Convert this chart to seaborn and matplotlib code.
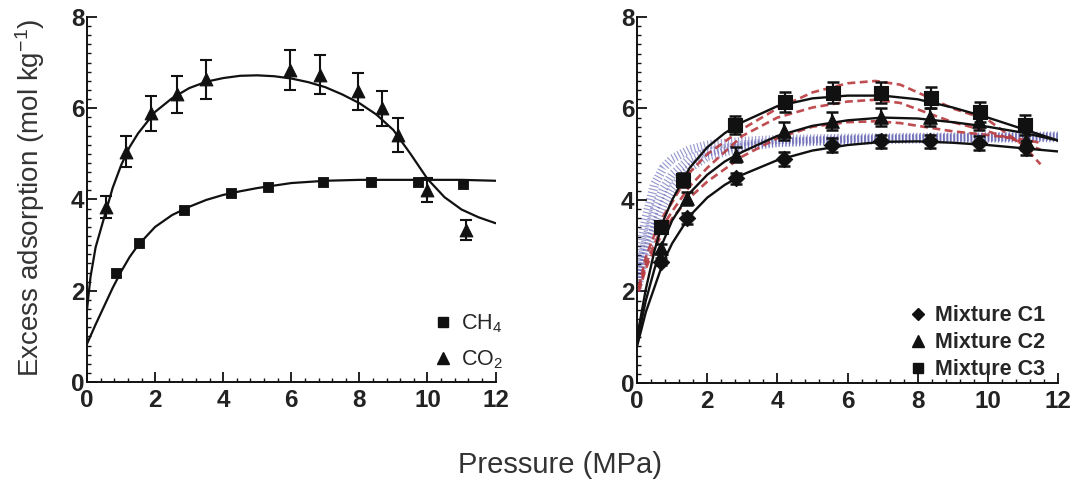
import numpy as np
import pandas as pd
import matplotlib
matplotlib.use("Agg")
import matplotlib.pyplot as plt
import seaborn as sns
from matplotlib.ticker import MultipleLocator
from matplotlib.lines import Line2D

sns.set_theme(style="ticks")
plt.rcParams['font.family'] = ['Liberation Sans', 'DejaVu Sans']
plt.rcParams['mathtext.fontset'] = 'custom'
plt.rcParams['mathtext.rm'] = 'Liberation Sans'
plt.rcParams['mathtext.it'] = 'Liberation Sans'

# ---------------- Left panel data ----------------
ch4_p = [0.86, 1.53, 2.84, 4.24, 5.32, 6.93, 8.35, 9.73, 11.05]
ch4_q = [2.38, 3.05, 3.77, 4.15, 4.28, 4.39, 4.39, 4.39, 4.33]

co2_p = [0.57, 1.14, 1.89, 2.65, 3.48, 5.97, 6.84, 7.96, 8.65, 9.14, 9.99, 11.13]
co2_q = [3.84, 5.05, 5.89, 6.30, 6.63, 6.84, 6.73, 6.37, 6.00, 5.42, 4.21, 3.33]
co2_err = [0.24, 0.33, 0.38, 0.41, 0.43, 0.44, 0.43, 0.41, 0.38, 0.37, 0.27, 0.22]

ch4_fit_p = [0, 0.25, 0.5, 0.75, 1, 1.25, 1.5, 2, 2.5, 3, 3.5, 4, 4.5, 5, 6, 7, 8, 9, 10, 11, 12]
ch4_fit_q = [0.84, 1.26, 1.66, 2.06, 2.42, 2.74, 3.0, 3.40, 3.66, 3.84, 3.99, 4.10, 4.18, 4.25, 4.36,
             4.41, 4.43, 4.43, 4.43, 4.43, 4.41]

co2_fit_p = [0, 0.1, 0.25, 0.5, 0.75, 1, 1.25, 1.5, 2, 2.5, 3, 3.5, 4, 4.5, 5, 5.5, 6, 6.5, 7, 7.5, 8,
             8.5, 9, 9.5, 10, 10.5, 11, 11.5, 12]
co2_fit_q = [1.6, 2.3, 2.95, 3.6, 4.25, 4.75, 5.15, 5.45, 5.92, 6.22, 6.44, 6.58, 6.66, 6.71, 6.72,
             6.70, 6.65, 6.57, 6.46, 6.30, 6.11, 5.86, 5.52, 5.00, 4.45, 4.05, 3.78, 3.61, 3.48]

# ---------------- Right panel data ----------------
mix_p = [0.67, 1.41, 2.83, 4.18, 5.56, 6.95, 8.35, 9.76, 11.08]
c1_q = [2.65, 3.60, 4.47, 4.89, 5.20, 5.28, 5.28, 5.24, 5.13]
c1_err = [0.08, 0.12, 0.13, 0.15, 0.15, 0.15, 0.15, 0.15, 0.15]
c2_q = [2.94, 4.04, 4.99, 5.50, 5.72, 5.82, 5.82, 5.72, 5.30]
c2_err = [0.10, 0.14, 0.17, 0.20, 0.20, 0.20, 0.20, 0.20, 0.20]
c3_p = [0.67, 1.31, 2.78, 4.21, 5.59, 6.96, 8.39, 9.77, 11.05]
c3_q = [3.42, 4.44, 5.64, 6.15, 6.34, 6.34, 6.23, 5.93, 5.64]
c3_err = [0.10, 0.15, 0.20, 0.22, 0.23, 0.23, 0.23, 0.22, 0.22]

fit_p = [0, 0.25, 0.5, 0.75, 1, 1.5, 2, 2.5, 3, 4, 5, 6, 7, 8, 9, 10, 11, 12]
c1_fit = [0.80, 1.55, 2.10, 2.65, 3.05, 3.65, 4.05, 4.33, 4.55, 4.87, 5.08, 5.20, 5.27, 5.28, 5.25, 5.20, 5.13, 5.06]
c2_fit = [0.90, 1.80, 2.50, 3.10, 3.55, 4.15, 4.55, 4.84, 5.05, 5.40, 5.62, 5.74, 5.80, 5.78, 5.70, 5.60, 5.47, 5.30]
c3_fit = [1.00, 2.05, 2.90, 3.55, 4.00, 4.70, 5.15, 5.46, 5.70, 6.05, 6.22, 6.28, 6.28, 6.20, 6.02, 5.80, 5.55, 5.30]

red_p = [0.05, 0.25, 0.5, 0.75, 1, 1.5, 2, 3, 4, 5, 6, 6.8, 7.5, 8, 9, 10, 11, 11.5]
red1 = [2.0, 2.5, 2.95, 3.30, 3.60, 4.05, 4.40, 4.95, 5.35, 5.60, 5.70, 5.72, 5.68, 5.62, 5.50, 5.42, 5.32, 5.25]
red2 = [2.05, 2.6, 3.05, 3.45, 3.75, 4.30, 4.70, 5.40, 5.80, 6.02, 6.15, 6.19, 6.12, 5.98, 5.70, 5.50, 5.25, 5.10]
red3 = [2.1, 2.75, 3.25, 3.65, 3.95, 4.60, 5.00, 5.55, 6.00, 6.35, 6.55, 6.60, 6.52, 6.35, 6.00, 5.75, 5.20, 4.78]

blue_p = [0, 0.1, 0.25, 0.5, 0.75, 1, 1.5, 2, 3, 4, 6, 8, 10, 12]
blue1 = [2.3, 3.0, 3.6, 4.35, 4.70, 4.90, 5.10, 5.20, 5.28, 5.32, 5.35, 5.37, 5.38, 5.40]
blue2 = [2.1, 2.6, 3.1, 3.80, 4.25, 4.55, 4.90, 5.05, 5.20, 5.27, 5.32, 5.35, 5.37, 5.38]
blue3 = [2.0, 2.4, 2.8, 3.40, 3.90, 4.25, 4.70, 4.95, 5.15, 5.25, 5.30, 5.33, 5.35, 5.36]

# ---------------- Figure ----------------
fig = plt.figure(figsize=(10.75, 4.83), dpi=100)
ax1 = fig.add_axes([0.081, 0.209, 0.380, 0.756])
ax2 = fig.add_axes([0.5926, 0.207, 0.3916, 0.758])

BLK = '#111111'

def style_axis(ax):
    ax.set_xlim(0, 12)
    ax.set_ylim(0, 8)
    ax.xaxis.set_major_locator(MultipleLocator(2))
    ax.xaxis.set_minor_locator(MultipleLocator(0.4))
    ax.yaxis.set_major_locator(MultipleLocator(2))
    ax.yaxis.set_minor_locator(MultipleLocator(0.2))
    ax.tick_params(which='major', direction='in', length=7, width=1.3, color=BLK,
                   labelsize=17.5, labelcolor='#222222')
    ax.tick_params(which='minor', direction='in', length=3, width=1.0, color=BLK)
    ax.tick_params(axis='x', which='major', pad=5)
    ax.tick_params(axis='y', which='major', pad=2)
    for lab in ax.get_xticklabels() + ax.get_yticklabels():
        lab.set_fontweight('bold')
    for s in ['top', 'right']:
        ax.spines[s].set_visible(False)
    for s in ['left', 'bottom']:
        ax.spines[s].set_linewidth(1.4)
        ax.spines[s].set_color(BLK)
    ax.set_xlabel('')
    ax.set_ylabel('')
    ax.set_facecolor('white')

# Left panel
sns.lineplot(x=ch4_fit_p, y=ch4_fit_q, ax=ax1, color=BLK, lw=1.6)
sns.lineplot(x=co2_fit_p, y=co2_fit_q, ax=ax1, color=BLK, lw=1.6)
ax1.errorbar(co2_p, co2_q, yerr=co2_err, fmt='none', ecolor=BLK, elinewidth=1.5, capsize=4, capthick=1.5)
sns.scatterplot(x=ch4_p, y=ch4_q, ax=ax1, marker='s', s=60, color=BLK, edgecolor=BLK, zorder=5)
sns.scatterplot(x=co2_p, y=co2_q, ax=ax1, marker='^', s=85, color=BLK, edgecolor=BLK, zorder=5)
style_axis(ax1)
h1 = [Line2D([], [], ls='none', marker='s', ms=7, color=BLK),
      Line2D([], [], ls='none', marker='^', ms=8, color=BLK)]
ax1.legend(h1, ['CH$_4$', 'CO$_2$'], loc='lower right', bbox_to_anchor=(1.055, -0.012),
           frameon=False, fontsize=15.5, handlelength=0.8, handletextpad=0.45, labelspacing=0.62,
           borderaxespad=0.3)

# Right panel
for yb in (blue1, blue2, blue3):
    sns.lineplot(x=blue_p, y=yb, ax=ax2, color='#4646a6', lw=6.5, alpha=0.55,
                 linestyle=(0, (0.13, 0.25)), zorder=2)
for yr in (red1, red2, red3):
    sns.lineplot(x=red_p, y=yr, ax=ax2, color='#b83a3e', lw=1.9, alpha=0.9,
                 linestyle=(0, (3, 1.7)), zorder=3)
for yf in (c1_fit, c2_fit, c3_fit):
    sns.lineplot(x=fit_p, y=yf, ax=ax2, color=BLK, lw=1.7, zorder=4)
ax2.errorbar(mix_p, c1_q, yerr=c1_err, fmt='none', ecolor=BLK, elinewidth=1.6, capsize=4, capthick=1.8, zorder=5)
ax2.errorbar(mix_p, c2_q, yerr=c2_err, fmt='none', ecolor=BLK, elinewidth=1.6, capsize=4, capthick=1.8, zorder=5)
ax2.errorbar(c3_p, c3_q, yerr=c3_err, fmt='none', ecolor=BLK, elinewidth=1.6, capsize=4, capthick=1.8, zorder=5)
sns.scatterplot(x=mix_p, y=c1_q, ax=ax2, marker='D', s=70, color=BLK, edgecolor=BLK, zorder=6)
sns.scatterplot(x=mix_p, y=c2_q, ax=ax2, marker='^', s=95, color=BLK, edgecolor=BLK, zorder=6)
sns.scatterplot(x=c3_p, y=c3_q, ax=ax2, marker='s', s=100, color=BLK, edgecolor=BLK, zorder=6)
style_axis(ax2)
h2 = [Line2D([], [], ls='none', marker='D', ms=6, color=BLK),
      Line2D([], [], ls='none', marker='^', ms=8, color=BLK),
      Line2D([], [], ls='none', marker='s', ms=7, color=BLK)]
ax2.legend(h2, ['Mixture C1', 'Mixture C2', 'Mixture C3'], loc='lower right',
           bbox_to_anchor=(1.0, -0.028), frameon=False, handlelength=0.8, handletextpad=0.4,
           labelspacing=0.28, borderaxespad=0.2, prop={'size': 15.5, 'weight': 'bold'})

fig.text(0.028, 0.59, 'Excess adsorption (mol kg$^{-1}$)', rotation=90, ha='center', va='center',
         fontsize=20, color='#333333')
fig.text(0.521, 0.038, 'Pressure (MPa)', ha='center', va='center', fontsize=21, color='#333333')

fig.savefig('out.png', dpi=100, facecolor='white')
